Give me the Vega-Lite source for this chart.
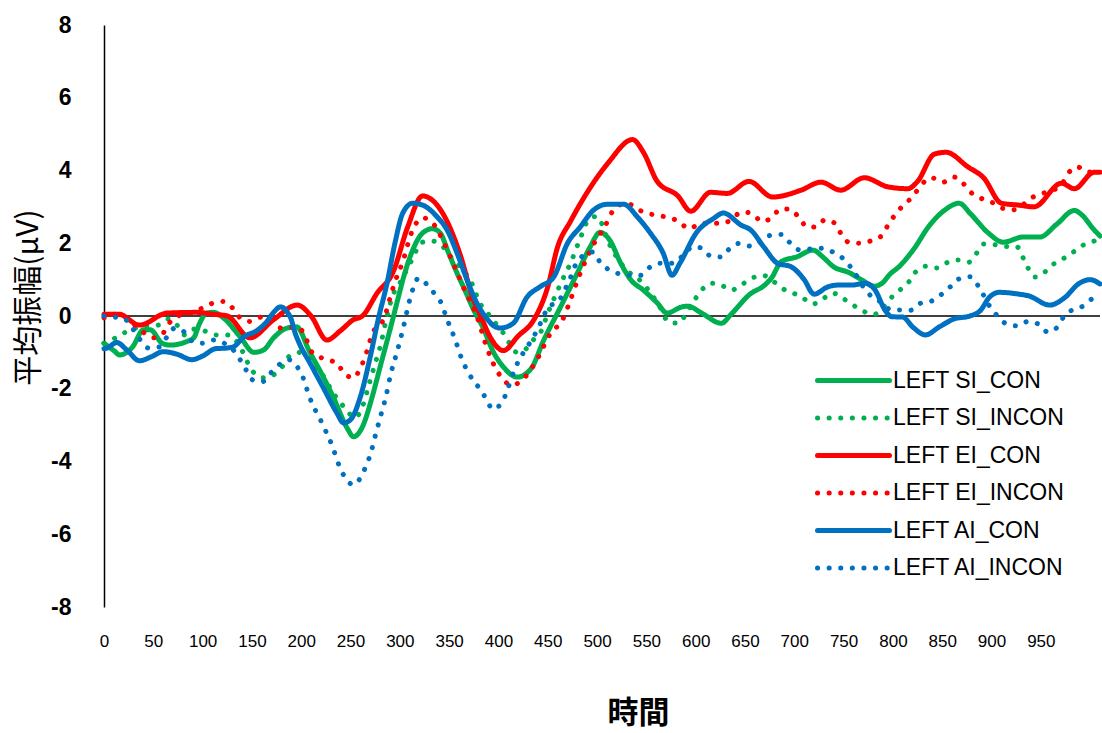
{
  "$schema": "https://vega.github.io/schema/vega-lite/v6.json",
  "width": 996,
  "height": 582,
  "autosize": {"type": "none"},
  "padding": {"left": 104, "top": 25, "right": 2, "bottom": 126},
  "background": "white",
  "config": {"view": {"stroke": null}, "font": "Liberation Sans"},
  "data": {"values": [
    {"s":"LEFT SI_CON","t":0,"v":-0.75},{"s":"LEFT SI_CON","t":10,"v":-0.95},{"s":"LEFT SI_CON","t":16,"v":-1.07},{"s":"LEFT SI_CON","t":29,"v":-0.85},{"s":"LEFT SI_CON","t":40,"v":-0.38},{"s":"LEFT SI_CON","t":47,"v":-0.38},{"s":"LEFT SI_CON","t":59,"v":-0.75},{"s":"LEFT SI_CON","t":67,"v":-0.8},{"s":"LEFT SI_CON","t":84,"v":-0.7},{"s":"LEFT SI_CON","t":91,"v":-0.6},{"s":"LEFT SI_CON","t":97,"v":-0.2},{"s":"LEFT SI_CON","t":104,"v":0.08},{"s":"LEFT SI_CON","t":111,"v":0.1},{"s":"LEFT SI_CON","t":121,"v":-0.05},{"s":"LEFT SI_CON","t":138,"v":-0.57},{"s":"LEFT SI_CON","t":152,"v":-1.0},{"s":"LEFT SI_CON","t":162,"v":-0.93},{"s":"LEFT SI_CON","t":172,"v":-0.6},{"s":"LEFT SI_CON","t":186,"v":-0.33},{"s":"LEFT SI_CON","t":196,"v":-0.3},{"s":"LEFT SI_CON","t":199,"v":-0.4},{"s":"LEFT SI_CON","t":207,"v":-0.9},{"s":"LEFT SI_CON","t":219,"v":-1.5},{"s":"LEFT SI_CON","t":232,"v":-2.2},{"s":"LEFT SI_CON","t":247,"v":-3.1},{"s":"LEFT SI_CON","t":253,"v":-3.32},{"s":"LEFT SI_CON","t":262,"v":-3.05},{"s":"LEFT SI_CON","t":272,"v":-2.22},{"s":"LEFT SI_CON","t":280,"v":-1.4},{"s":"LEFT SI_CON","t":290,"v":-0.38},{"s":"LEFT SI_CON","t":297,"v":0.36},{"s":"LEFT SI_CON","t":305,"v":1.18},{"s":"LEFT SI_CON","t":313,"v":1.81},{"s":"LEFT SI_CON","t":323,"v":2.28},{"s":"LEFT SI_CON","t":333,"v":2.4},{"s":"LEFT SI_CON","t":341,"v":2.28},{"s":"LEFT SI_CON","t":349,"v":1.76},{"s":"LEFT SI_CON","t":358,"v":1.18},{"s":"LEFT SI_CON","t":366,"v":0.71},{"s":"LEFT SI_CON","t":375,"v":0.16},{"s":"LEFT SI_CON","t":384,"v":-0.3},{"s":"LEFT SI_CON","t":395,"v":-1.0},{"s":"LEFT SI_CON","t":405,"v":-1.4},{"s":"LEFT SI_CON","t":419,"v":-1.68},{"s":"LEFT SI_CON","t":433,"v":-1.45},{"s":"LEFT SI_CON","t":446,"v":-0.66},{"s":"LEFT SI_CON","t":463,"v":0.25},{"s":"LEFT SI_CON","t":480,"v":1.18},{"s":"LEFT SI_CON","t":493,"v":1.9},{"s":"LEFT SI_CON","t":503,"v":2.3},{"s":"LEFT SI_CON","t":513,"v":2.08},{"s":"LEFT SI_CON","t":524,"v":1.45},{"s":"LEFT SI_CON","t":534,"v":1.0},{"s":"LEFT SI_CON","t":547,"v":0.71},{"s":"LEFT SI_CON","t":561,"v":0.36},{"s":"LEFT SI_CON","t":571,"v":0.08},{"s":"LEFT SI_CON","t":586,"v":0.25},{"s":"LEFT SI_CON","t":592,"v":0.27},{"s":"LEFT SI_CON","t":606,"v":0.08},{"s":"LEFT SI_CON","t":626,"v":-0.2},{"s":"LEFT SI_CON","t":636,"v":0.05},{"s":"LEFT SI_CON","t":655,"v":0.6},{"s":"LEFT SI_CON","t":670,"v":0.85},{"s":"LEFT SI_CON","t":677,"v":1.05},{"s":"LEFT SI_CON","t":687,"v":1.5},{"s":"LEFT SI_CON","t":702,"v":1.62},{"s":"LEFT SI_CON","t":719,"v":1.81},{"s":"LEFT SI_CON","t":729,"v":1.62},{"s":"LEFT SI_CON","t":740,"v":1.35},{"s":"LEFT SI_CON","t":755,"v":1.2},{"s":"LEFT SI_CON","t":768,"v":1.0},{"s":"LEFT SI_CON","t":781,"v":0.82},{"s":"LEFT SI_CON","t":789,"v":0.9},{"s":"LEFT SI_CON","t":797,"v":1.15},{"s":"LEFT SI_CON","t":806,"v":1.35},{"s":"LEFT SI_CON","t":822,"v":1.87},{"s":"LEFT SI_CON","t":836,"v":2.45},{"s":"LEFT SI_CON","t":852,"v":2.9},{"s":"LEFT SI_CON","t":867,"v":3.1},{"s":"LEFT SI_CON","t":879,"v":2.8},{"s":"LEFT SI_CON","t":896,"v":2.3},{"s":"LEFT SI_CON","t":912,"v":2.03},{"s":"LEFT SI_CON","t":932,"v":2.17},{"s":"LEFT SI_CON","t":949,"v":2.17},{"s":"LEFT SI_CON","t":966,"v":2.52},{"s":"LEFT SI_CON","t":984,"v":2.9},{"s":"LEFT SI_CON","t":992,"v":2.77},{"s":"LEFT SI_CON","t":1003,"v":2.4},{"s":"LEFT SI_CON","t":1010,"v":2.2},

    {"s":"LEFT SI_INCON","t":0,"v":-0.75},{"s":"LEFT SI_INCON","t":12,"v":-0.6},{"s":"LEFT SI_INCON","t":23,"v":-0.43},{"s":"LEFT SI_INCON","t":37,"v":-0.3},{"s":"LEFT SI_INCON","t":55,"v":-0.25},{"s":"LEFT SI_INCON","t":65,"v":-0.08},{"s":"LEFT SI_INCON","t":74,"v":-0.25},{"s":"LEFT SI_INCON","t":82,"v":-0.52},{"s":"LEFT SI_INCON","t":93,"v":-0.35},{"s":"LEFT SI_INCON","t":104,"v":-0.43},{"s":"LEFT SI_INCON","t":114,"v":-0.52},{"s":"LEFT SI_INCON","t":126,"v":-0.52},{"s":"LEFT SI_INCON","t":141,"v":-1.0},{"s":"LEFT SI_INCON","t":146,"v":-1.3},{"s":"LEFT SI_INCON","t":152,"v":-1.56},{"s":"LEFT SI_INCON","t":162,"v":-1.7},{"s":"LEFT SI_INCON","t":174,"v":-1.58},{"s":"LEFT SI_INCON","t":182,"v":-1.35},{"s":"LEFT SI_INCON","t":188,"v":-1.1},{"s":"LEFT SI_INCON","t":197,"v":-1.0},{"s":"LEFT SI_INCON","t":206,"v":-1.12},{"s":"LEFT SI_INCON","t":214,"v":-1.45},{"s":"LEFT SI_INCON","t":221,"v":-1.6},{"s":"LEFT SI_INCON","t":232,"v":-2.1},{"s":"LEFT SI_INCON","t":246,"v":-2.58},{"s":"LEFT SI_INCON","t":254,"v":-2.8},{"s":"LEFT SI_INCON","t":262,"v":-2.5},{"s":"LEFT SI_INCON","t":268,"v":-1.95},{"s":"LEFT SI_INCON","t":275,"v":-1.3},{"s":"LEFT SI_INCON","t":280,"v":-0.85},{"s":"LEFT SI_INCON","t":287,"v":0.0},{"s":"LEFT SI_INCON","t":293,"v":0.58},{"s":"LEFT SI_INCON","t":300,"v":0.9},{"s":"LEFT SI_INCON","t":311,"v":1.48},{"s":"LEFT SI_INCON","t":323,"v":2.03},{"s":"LEFT SI_INCON","t":333,"v":2.06},{"s":"LEFT SI_INCON","t":343,"v":1.92},{"s":"LEFT SI_INCON","t":354,"v":1.54},{"s":"LEFT SI_INCON","t":366,"v":1.2},{"s":"LEFT SI_INCON","t":373,"v":0.9},{"s":"LEFT SI_INCON","t":381,"v":0.36},{"s":"LEFT SI_INCON","t":389,"v":0.08},{"s":"LEFT SI_INCON","t":397,"v":-0.2},{"s":"LEFT SI_INCON","t":405,"v":-0.47},{"s":"LEFT SI_INCON","t":419,"v":-1.0},{"s":"LEFT SI_INCON","t":429,"v":-0.88},{"s":"LEFT SI_INCON","t":437,"v":-0.6},{"s":"LEFT SI_INCON","t":444,"v":-0.38},{"s":"LEFT SI_INCON","t":449,"v":0.0},{"s":"LEFT SI_INCON","t":457,"v":0.52},{"s":"LEFT SI_INCON","t":465,"v":1.0},{"s":"LEFT SI_INCON","t":473,"v":1.45},{"s":"LEFT SI_INCON","t":483,"v":2.14},{"s":"LEFT SI_INCON","t":491,"v":2.63},{"s":"LEFT SI_INCON","t":500,"v":2.74},{"s":"LEFT SI_INCON","t":512,"v":2.0},{"s":"LEFT SI_INCON","t":527,"v":1.35},{"s":"LEFT SI_INCON","t":537,"v":1.1},{"s":"LEFT SI_INCON","t":547,"v":0.9},{"s":"LEFT SI_INCON","t":554,"v":0.63},{"s":"LEFT SI_INCON","t":561,"v":0.38},{"s":"LEFT SI_INCON","t":573,"v":-0.17},{"s":"LEFT SI_INCON","t":583,"v":-0.2},{"s":"LEFT SI_INCON","t":590,"v":0.05},{"s":"LEFT SI_INCON","t":597,"v":0.36},{"s":"LEFT SI_INCON","t":606,"v":0.71},{"s":"LEFT SI_INCON","t":615,"v":0.9},{"s":"LEFT SI_INCON","t":626,"v":0.85},{"s":"LEFT SI_INCON","t":636,"v":0.71},{"s":"LEFT SI_INCON","t":646,"v":0.85},{"s":"LEFT SI_INCON","t":657,"v":1.04},{"s":"LEFT SI_INCON","t":668,"v":1.12},{"s":"LEFT SI_INCON","t":678,"v":0.97},{"s":"LEFT SI_INCON","t":687,"v":0.77},{"s":"LEFT SI_INCON","t":699,"v":0.63},{"s":"LEFT SI_INCON","t":709,"v":0.49},{"s":"LEFT SI_INCON","t":719,"v":0.33},{"s":"LEFT SI_INCON","t":729,"v":0.47},{"s":"LEFT SI_INCON","t":739,"v":0.63},{"s":"LEFT SI_INCON","t":749,"v":0.49},{"s":"LEFT SI_INCON","t":758,"v":0.33},{"s":"LEFT SI_INCON","t":768,"v":0.16},{"s":"LEFT SI_INCON","t":780,"v":0.04},{"s":"LEFT SI_INCON","t":789,"v":0.19},{"s":"LEFT SI_INCON","t":796,"v":0.44},{"s":"LEFT SI_INCON","t":806,"v":0.69},{"s":"LEFT SI_INCON","t":816,"v":0.93},{"s":"LEFT SI_INCON","t":823,"v":1.21},{"s":"LEFT SI_INCON","t":834,"v":1.37},{"s":"LEFT SI_INCON","t":845,"v":1.32},{"s":"LEFT SI_INCON","t":855,"v":1.47},{"s":"LEFT SI_INCON","t":866,"v":1.54},{"s":"LEFT SI_INCON","t":877,"v":1.48},{"s":"LEFT SI_INCON","t":885,"v":1.73},{"s":"LEFT SI_INCON","t":892,"v":1.98},{"s":"LEFT SI_INCON","t":903,"v":1.96},{"s":"LEFT SI_INCON","t":916,"v":1.91},{"s":"LEFT SI_INCON","t":926,"v":1.9},{"s":"LEFT SI_INCON","t":932,"v":1.6},{"s":"LEFT SI_INCON","t":937,"v":1.32},{"s":"LEFT SI_INCON","t":944,"v":1.07},{"s":"LEFT SI_INCON","t":954,"v":1.21},{"s":"LEFT SI_INCON","t":963,"v":1.43},{"s":"LEFT SI_INCON","t":973,"v":1.58},{"s":"LEFT SI_INCON","t":983,"v":1.76},{"s":"LEFT SI_INCON","t":993,"v":1.95},{"s":"LEFT SI_INCON","t":1004,"v":2.06},{"s":"LEFT SI_INCON","t":1010,"v":2.15},

    {"s":"LEFT EI_CON","t":0,"v":0.05},{"s":"LEFT EI_CON","t":15,"v":0.05},{"s":"LEFT EI_CON","t":36,"v":-0.25},{"s":"LEFT EI_CON","t":64,"v":0.08},{"s":"LEFT EI_CON","t":94,"v":0.1},{"s":"LEFT EI_CON","t":110,"v":0.05},{"s":"LEFT EI_CON","t":125,"v":0.0},{"s":"LEFT EI_CON","t":148,"v":-0.6},{"s":"LEFT EI_CON","t":172,"v":-0.1},{"s":"LEFT EI_CON","t":196,"v":0.3},{"s":"LEFT EI_CON","t":210,"v":0.0},{"s":"LEFT EI_CON","t":226,"v":-0.66},{"s":"LEFT EI_CON","t":240,"v":-0.4},{"s":"LEFT EI_CON","t":253,"v":-0.1},{"s":"LEFT EI_CON","t":262,"v":0.0},{"s":"LEFT EI_CON","t":277,"v":0.63},{"s":"LEFT EI_CON","t":293,"v":1.2},{"s":"LEFT EI_CON","t":308,"v":2.45},{"s":"LEFT EI_CON","t":323,"v":3.3},{"s":"LEFT EI_CON","t":344,"v":2.8},{"s":"LEFT EI_CON","t":361,"v":1.7},{"s":"LEFT EI_CON","t":374,"v":0.5},{"s":"LEFT EI_CON","t":382,"v":0.0},{"s":"LEFT EI_CON","t":392,"v":-0.6},{"s":"LEFT EI_CON","t":405,"v":-0.95},{"s":"LEFT EI_CON","t":420,"v":-0.55},{"s":"LEFT EI_CON","t":436,"v":-0.1},{"s":"LEFT EI_CON","t":450,"v":0.8},{"s":"LEFT EI_CON","t":460,"v":1.9},{"s":"LEFT EI_CON","t":473,"v":2.6},{"s":"LEFT EI_CON","t":490,"v":3.4},{"s":"LEFT EI_CON","t":511,"v":4.2},{"s":"LEFT EI_CON","t":536,"v":4.85},{"s":"LEFT EI_CON","t":547,"v":4.5},{"s":"LEFT EI_CON","t":561,"v":3.7},{"s":"LEFT EI_CON","t":582,"v":3.3},{"s":"LEFT EI_CON","t":595,"v":2.88},{"s":"LEFT EI_CON","t":615,"v":3.4},{"s":"LEFT EI_CON","t":632,"v":3.37},{"s":"LEFT EI_CON","t":654,"v":3.7},{"s":"LEFT EI_CON","t":678,"v":3.27},{"s":"LEFT EI_CON","t":707,"v":3.46},{"s":"LEFT EI_CON","t":727,"v":3.68},{"s":"LEFT EI_CON","t":747,"v":3.46},{"s":"LEFT EI_CON","t":771,"v":3.8},{"s":"LEFT EI_CON","t":795,"v":3.55},{"s":"LEFT EI_CON","t":815,"v":3.5},{"s":"LEFT EI_CON","t":825,"v":3.7},{"s":"LEFT EI_CON","t":842,"v":4.45},{"s":"LEFT EI_CON","t":854,"v":4.5},{"s":"LEFT EI_CON","t":876,"v":4.1},{"s":"LEFT EI_CON","t":892,"v":3.8},{"s":"LEFT EI_CON","t":910,"v":3.1},{"s":"LEFT EI_CON","t":927,"v":3.05},{"s":"LEFT EI_CON","t":943,"v":3.0},{"s":"LEFT EI_CON","t":971,"v":3.65},{"s":"LEFT EI_CON","t":984,"v":3.5},{"s":"LEFT EI_CON","t":1004,"v":3.95},{"s":"LEFT EI_CON","t":1010,"v":3.95},

    {"s":"LEFT EI_INCON","t":0,"v":-0.05},{"s":"LEFT EI_INCON","t":13,"v":0.05},{"s":"LEFT EI_INCON","t":22,"v":-0.05},{"s":"LEFT EI_INCON","t":40,"v":-0.45},{"s":"LEFT EI_INCON","t":50,"v":-0.6},{"s":"LEFT EI_INCON","t":60,"v":-0.47},{"s":"LEFT EI_INCON","t":66,"v":-0.2},{"s":"LEFT EI_INCON","t":80,"v":0.05},{"s":"LEFT EI_INCON","t":90,"v":0.1},{"s":"LEFT EI_INCON","t":110,"v":0.35},{"s":"LEFT EI_INCON","t":122,"v":0.4},{"s":"LEFT EI_INCON","t":131,"v":0.2},{"s":"LEFT EI_INCON","t":138,"v":-0.05},{"s":"LEFT EI_INCON","t":148,"v":-0.15},{"s":"LEFT EI_INCON","t":160,"v":-0.03},{"s":"LEFT EI_INCON","t":180,"v":-0.33},{"s":"LEFT EI_INCON","t":196,"v":-0.3},{"s":"LEFT EI_INCON","t":203,"v":-0.5},{"s":"LEFT EI_INCON","t":211,"v":-1.0},{"s":"LEFT EI_INCON","t":226,"v":-1.2},{"s":"LEFT EI_INCON","t":237,"v":-1.3},{"s":"LEFT EI_INCON","t":242,"v":-1.53},{"s":"LEFT EI_INCON","t":253,"v":-1.7},{"s":"LEFT EI_INCON","t":260,"v":-1.43},{"s":"LEFT EI_INCON","t":265,"v":-1.1},{"s":"LEFT EI_INCON","t":272,"v":-0.5},{"s":"LEFT EI_INCON","t":285,"v":0.0},{"s":"LEFT EI_INCON","t":288,"v":0.3},{"s":"LEFT EI_INCON","t":295,"v":0.93},{"s":"LEFT EI_INCON","t":303,"v":1.5},{"s":"LEFT EI_INCON","t":312,"v":2.3},{"s":"LEFT EI_INCON","t":323,"v":2.7},{"s":"LEFT EI_INCON","t":335,"v":2.5},{"s":"LEFT EI_INCON","t":345,"v":2.0},{"s":"LEFT EI_INCON","t":358,"v":1.2},{"s":"LEFT EI_INCON","t":366,"v":0.7},{"s":"LEFT EI_INCON","t":378,"v":0.0},{"s":"LEFT EI_INCON","t":389,"v":-0.93},{"s":"LEFT EI_INCON","t":400,"v":-1.57},{"s":"LEFT EI_INCON","t":414,"v":-1.9},{"s":"LEFT EI_INCON","t":424,"v":-1.76},{"s":"LEFT EI_INCON","t":437,"v":-1.3},{"s":"LEFT EI_INCON","t":453,"v":-0.47},{"s":"LEFT EI_INCON","t":465,"v":-0.1},{"s":"LEFT EI_INCON","t":473,"v":0.44},{"s":"LEFT EI_INCON","t":481,"v":1.04},{"s":"LEFT EI_INCON","t":490,"v":1.62},{"s":"LEFT EI_INCON","t":500,"v":2.14},{"s":"LEFT EI_INCON","t":508,"v":2.45},{"s":"LEFT EI_INCON","t":513,"v":2.77},{"s":"LEFT EI_INCON","t":529,"v":3.1},{"s":"LEFT EI_INCON","t":549,"v":2.83},{"s":"LEFT EI_INCON","t":561,"v":2.77},{"s":"LEFT EI_INCON","t":573,"v":2.7},{"s":"LEFT EI_INCON","t":583,"v":2.6},{"s":"LEFT EI_INCON","t":593,"v":2.4},{"s":"LEFT EI_INCON","t":606,"v":2.55},{"s":"LEFT EI_INCON","t":618,"v":2.55},{"s":"LEFT EI_INCON","t":628,"v":2.55},{"s":"LEFT EI_INCON","t":648,"v":2.86},{"s":"LEFT EI_INCON","t":658,"v":2.8},{"s":"LEFT EI_INCON","t":667,"v":2.6},{"s":"LEFT EI_INCON","t":677,"v":2.7},{"s":"LEFT EI_INCON","t":686,"v":2.94},{"s":"LEFT EI_INCON","t":695,"v":2.94},{"s":"LEFT EI_INCON","t":705,"v":2.7},{"s":"LEFT EI_INCON","t":713,"v":2.45},{"s":"LEFT EI_INCON","t":722,"v":2.45},{"s":"LEFT EI_INCON","t":731,"v":2.64},{"s":"LEFT EI_INCON","t":741,"v":2.55},{"s":"LEFT EI_INCON","t":747,"v":2.28},{"s":"LEFT EI_INCON","t":755,"v":2.03},{"s":"LEFT EI_INCON","t":765,"v":2.0},{"s":"LEFT EI_INCON","t":777,"v":2.06},{"s":"LEFT EI_INCON","t":787,"v":2.17},{"s":"LEFT EI_INCON","t":794,"v":2.45},{"s":"LEFT EI_INCON","t":800,"v":2.7},{"s":"LEFT EI_INCON","t":808,"v":2.97},{"s":"LEFT EI_INCON","t":817,"v":3.2},{"s":"LEFT EI_INCON","t":839,"v":3.8},{"s":"LEFT EI_INCON","t":851,"v":3.68},{"s":"LEFT EI_INCON","t":862,"v":3.82},{"s":"LEFT EI_INCON","t":871,"v":3.65},{"s":"LEFT EI_INCON","t":879,"v":3.4},{"s":"LEFT EI_INCON","t":889,"v":3.24},{"s":"LEFT EI_INCON","t":900,"v":3.13},{"s":"LEFT EI_INCON","t":910,"v":2.97},{"s":"LEFT EI_INCON","t":922,"v":2.92},{"s":"LEFT EI_INCON","t":942,"v":3.27},{"s":"LEFT EI_INCON","t":953,"v":3.38},{"s":"LEFT EI_INCON","t":963,"v":3.46},{"s":"LEFT EI_INCON","t":972,"v":3.65},{"s":"LEFT EI_INCON","t":978,"v":3.93},{"s":"LEFT EI_INCON","t":987,"v":4.1},{"s":"LEFT EI_INCON","t":997,"v":3.96},{"s":"LEFT EI_INCON","t":1010,"v":3.96},

    {"s":"LEFT AI_CON","t":0,"v":-0.9},{"s":"LEFT AI_CON","t":3,"v":-0.88},{"s":"LEFT AI_CON","t":13,"v":-0.73},{"s":"LEFT AI_CON","t":23,"v":-0.93},{"s":"LEFT AI_CON","t":36,"v":-1.23},{"s":"LEFT AI_CON","t":48,"v":-1.12},{"s":"LEFT AI_CON","t":60,"v":-0.98},{"s":"LEFT AI_CON","t":74,"v":-1.05},{"s":"LEFT AI_CON","t":89,"v":-1.2},{"s":"LEFT AI_CON","t":100,"v":-1.1},{"s":"LEFT AI_CON","t":113,"v":-0.9},{"s":"LEFT AI_CON","t":125,"v":-0.88},{"s":"LEFT AI_CON","t":131,"v":-0.85},{"s":"LEFT AI_CON","t":142,"v":-0.57},{"s":"LEFT AI_CON","t":155,"v":-0.4},{"s":"LEFT AI_CON","t":165,"v":-0.16},{"s":"LEFT AI_CON","t":172,"v":0.1},{"s":"LEFT AI_CON","t":179,"v":0.25},{"s":"LEFT AI_CON","t":186,"v":0.1},{"s":"LEFT AI_CON","t":190,"v":-0.1},{"s":"LEFT AI_CON","t":193,"v":-0.4},{"s":"LEFT AI_CON","t":198,"v":-0.75},{"s":"LEFT AI_CON","t":209,"v":-1.3},{"s":"LEFT AI_CON","t":222,"v":-1.95},{"s":"LEFT AI_CON","t":236,"v":-2.66},{"s":"LEFT AI_CON","t":243,"v":-2.94},{"s":"LEFT AI_CON","t":250,"v":-2.85},{"s":"LEFT AI_CON","t":260,"v":-2.22},{"s":"LEFT AI_CON","t":270,"v":-1.12},{"s":"LEFT AI_CON","t":278,"v":-0.1},{"s":"LEFT AI_CON","t":287,"v":0.9},{"s":"LEFT AI_CON","t":295,"v":2.0},{"s":"LEFT AI_CON","t":303,"v":2.83},{"s":"LEFT AI_CON","t":313,"v":3.1},{"s":"LEFT AI_CON","t":323,"v":3.05},{"s":"LEFT AI_CON","t":338,"v":2.72},{"s":"LEFT AI_CON","t":348,"v":2.36},{"s":"LEFT AI_CON","t":358,"v":1.73},{"s":"LEFT AI_CON","t":368,"v":1.0},{"s":"LEFT AI_CON","t":378,"v":0.36},{"s":"LEFT AI_CON","t":389,"v":-0.1},{"s":"LEFT AI_CON","t":397,"v":-0.3},{"s":"LEFT AI_CON","t":402,"v":-0.33},{"s":"LEFT AI_CON","t":415,"v":-0.2},{"s":"LEFT AI_CON","t":429,"v":0.52},{"s":"LEFT AI_CON","t":442,"v":0.8},{"s":"LEFT AI_CON","t":456,"v":1.07},{"s":"LEFT AI_CON","t":470,"v":2.0},{"s":"LEFT AI_CON","t":483,"v":2.45},{"s":"LEFT AI_CON","t":496,"v":2.9},{"s":"LEFT AI_CON","t":510,"v":3.07},{"s":"LEFT AI_CON","t":527,"v":3.07},{"s":"LEFT AI_CON","t":541,"v":2.72},{"s":"LEFT AI_CON","t":554,"v":2.28},{"s":"LEFT AI_CON","t":567,"v":1.73},{"s":"LEFT AI_CON","t":576,"v":1.12},{"s":"LEFT AI_CON","t":584,"v":1.45},{"s":"LEFT AI_CON","t":601,"v":2.3},{"s":"LEFT AI_CON","t":618,"v":2.68},{"s":"LEFT AI_CON","t":628,"v":2.83},{"s":"LEFT AI_CON","t":646,"v":2.5},{"s":"LEFT AI_CON","t":656,"v":2.36},{"s":"LEFT AI_CON","t":669,"v":1.9},{"s":"LEFT AI_CON","t":683,"v":1.45},{"s":"LEFT AI_CON","t":697,"v":1.35},{"s":"LEFT AI_CON","t":710,"v":1.0},{"s":"LEFT AI_CON","t":720,"v":0.6},{"s":"LEFT AI_CON","t":734,"v":0.8},{"s":"LEFT AI_CON","t":744,"v":0.85},{"s":"LEFT AI_CON","t":758,"v":0.85},{"s":"LEFT AI_CON","t":772,"v":0.9},{"s":"LEFT AI_CON","t":782,"v":0.71},{"s":"LEFT AI_CON","t":792,"v":0.16},{"s":"LEFT AI_CON","t":799,"v":-0.02},{"s":"LEFT AI_CON","t":810,"v":-0.03},{"s":"LEFT AI_CON","t":820,"v":-0.3},{"s":"LEFT AI_CON","t":833,"v":-0.52},{"s":"LEFT AI_CON","t":847,"v":-0.3},{"s":"LEFT AI_CON","t":862,"v":-0.08},{"s":"LEFT AI_CON","t":878,"v":0.0},{"s":"LEFT AI_CON","t":889,"v":0.16},{"s":"LEFT AI_CON","t":898,"v":0.52},{"s":"LEFT AI_CON","t":908,"v":0.65},{"s":"LEFT AI_CON","t":928,"v":0.6},{"s":"LEFT AI_CON","t":938,"v":0.55},{"s":"LEFT AI_CON","t":959,"v":0.3},{"s":"LEFT AI_CON","t":974,"v":0.5},{"s":"LEFT AI_CON","t":989,"v":0.9},{"s":"LEFT AI_CON","t":1000,"v":1.0},{"s":"LEFT AI_CON","t":1010,"v":0.88},

    {"s":"LEFT AI_INCON","t":0,"v":0.0},{"s":"LEFT AI_INCON","t":11,"v":-0.03},{"s":"LEFT AI_INCON","t":22,"v":-0.1},{"s":"LEFT AI_INCON","t":30,"v":-0.38},{"s":"LEFT AI_INCON","t":36,"v":-0.63},{"s":"LEFT AI_INCON","t":45,"v":-0.88},{"s":"LEFT AI_INCON","t":56,"v":-0.85},{"s":"LEFT AI_INCON","t":64,"v":-0.57},{"s":"LEFT AI_INCON","t":72,"v":-0.33},{"s":"LEFT AI_INCON","t":81,"v":-0.43},{"s":"LEFT AI_INCON","t":90,"v":-0.7},{"s":"LEFT AI_INCON","t":100,"v":-0.75},{"s":"LEFT AI_INCON","t":111,"v":-0.66},{"s":"LEFT AI_INCON","t":122,"v":-0.75},{"s":"LEFT AI_INCON","t":131,"v":-0.93},{"s":"LEFT AI_INCON","t":138,"v":-1.2},{"s":"LEFT AI_INCON","t":144,"v":-1.48},{"s":"LEFT AI_INCON","t":151,"v":-1.76},{"s":"LEFT AI_INCON","t":161,"v":-1.8},{"s":"LEFT AI_INCON","t":169,"v":-1.57},{"s":"LEFT AI_INCON","t":177,"v":-1.35},{"s":"LEFT AI_INCON","t":187,"v":-1.2},{"s":"LEFT AI_INCON","t":196,"v":-1.4},{"s":"LEFT AI_INCON","t":202,"v":-1.7},{"s":"LEFT AI_INCON","t":208,"v":-2.2},{"s":"LEFT AI_INCON","t":221,"v":-2.94},{"s":"LEFT AI_INCON","t":231,"v":-3.54},{"s":"LEFT AI_INCON","t":239,"v":-4.15},{"s":"LEFT AI_INCON","t":244,"v":-4.42},{"s":"LEFT AI_INCON","t":253,"v":-4.64},{"s":"LEFT AI_INCON","t":260,"v":-4.45},{"s":"LEFT AI_INCON","t":266,"v":-4.1},{"s":"LEFT AI_INCON","t":270,"v":-3.82},{"s":"LEFT AI_INCON","t":275,"v":-3.3},{"s":"LEFT AI_INCON","t":281,"v":-2.7},{"s":"LEFT AI_INCON","t":286,"v":-2.2},{"s":"LEFT AI_INCON","t":291,"v":-1.57},{"s":"LEFT AI_INCON","t":297,"v":-1.0},{"s":"LEFT AI_INCON","t":303,"v":-0.38},{"s":"LEFT AI_INCON","t":310,"v":0.44},{"s":"LEFT AI_INCON","t":319,"v":1.04},{"s":"LEFT AI_INCON","t":328,"v":0.85},{"s":"LEFT AI_INCON","t":336,"v":0.58},{"s":"LEFT AI_INCON","t":343,"v":0.3},{"s":"LEFT AI_INCON","t":347,"v":-0.03},{"s":"LEFT AI_INCON","t":351,"v":-0.3},{"s":"LEFT AI_INCON","t":355,"v":-0.57},{"s":"LEFT AI_INCON","t":359,"v":-0.88},{"s":"LEFT AI_INCON","t":363,"v":-1.2},{"s":"LEFT AI_INCON","t":368,"v":-1.48},{"s":"LEFT AI_INCON","t":374,"v":-1.76},{"s":"LEFT AI_INCON","t":382,"v":-2.03},{"s":"LEFT AI_INCON","t":388,"v":-2.3},{"s":"LEFT AI_INCON","t":394,"v":-2.56},{"s":"LEFT AI_INCON","t":404,"v":-2.36},{"s":"LEFT AI_INCON","t":409,"v":-2.03},{"s":"LEFT AI_INCON","t":417,"v":-1.43},{"s":"LEFT AI_INCON","t":425,"v":-1.02},{"s":"LEFT AI_INCON","t":435,"v":-0.6},{"s":"LEFT AI_INCON","t":446,"v":0.0},{"s":"LEFT AI_INCON","t":450,"v":0.25},{"s":"LEFT AI_INCON","t":460,"v":0.38},{"s":"LEFT AI_INCON","t":471,"v":0.93},{"s":"LEFT AI_INCON","t":481,"v":1.54},{"s":"LEFT AI_INCON","t":496,"v":1.76},{"s":"LEFT AI_INCON","t":503,"v":1.48},{"s":"LEFT AI_INCON","t":511,"v":1.29},{"s":"LEFT AI_INCON","t":524,"v":1.15},{"s":"LEFT AI_INCON","t":534,"v":1.12},{"s":"LEFT AI_INCON","t":544,"v":1.12},{"s":"LEFT AI_INCON","t":554,"v":1.35},{"s":"LEFT AI_INCON","t":564,"v":1.45},{"s":"LEFT AI_INCON","t":577,"v":1.45},{"s":"LEFT AI_INCON","t":587,"v":1.66},{"s":"LEFT AI_INCON","t":597,"v":1.9},{"s":"LEFT AI_INCON","t":606,"v":1.87},{"s":"LEFT AI_INCON","t":615,"v":1.65},{"s":"LEFT AI_INCON","t":626,"v":1.62},{"s":"LEFT AI_INCON","t":634,"v":1.84},{"s":"LEFT AI_INCON","t":645,"v":2.0},{"s":"LEFT AI_INCON","t":656,"v":1.92},{"s":"LEFT AI_INCON","t":666,"v":2.05},{"s":"LEFT AI_INCON","t":676,"v":2.22},{"s":"LEFT AI_INCON","t":687,"v":2.24},{"s":"LEFT AI_INCON","t":695,"v":2.03},{"s":"LEFT AI_INCON","t":705,"v":1.82},{"s":"LEFT AI_INCON","t":716,"v":1.84},{"s":"LEFT AI_INCON","t":728,"v":1.86},{"s":"LEFT AI_INCON","t":739,"v":1.76},{"s":"LEFT AI_INCON","t":749,"v":1.59},{"s":"LEFT AI_INCON","t":757,"v":1.35},{"s":"LEFT AI_INCON","t":764,"v":1.07},{"s":"LEFT AI_INCON","t":770,"v":0.8},{"s":"LEFT AI_INCON","t":780,"v":0.5},{"s":"LEFT AI_INCON","t":789,"v":0.37},{"s":"LEFT AI_INCON","t":798,"v":0.17},{"s":"LEFT AI_INCON","t":818,"v":0.16},{"s":"LEFT AI_INCON","t":828,"v":0.35},{"s":"LEFT AI_INCON","t":839,"v":0.41},{"s":"LEFT AI_INCON","t":849,"v":0.59},{"s":"LEFT AI_INCON","t":858,"v":0.8},{"s":"LEFT AI_INCON","t":867,"v":1.02},{"s":"LEFT AI_INCON","t":878,"v":1.08},{"s":"LEFT AI_INCON","t":886,"v":0.85},{"s":"LEFT AI_INCON","t":892,"v":0.57},{"s":"LEFT AI_INCON","t":898,"v":0.27},{"s":"LEFT AI_INCON","t":905,"v":0.03},{"s":"LEFT AI_INCON","t":914,"v":-0.2},{"s":"LEFT AI_INCON","t":926,"v":-0.27},{"s":"LEFT AI_INCON","t":937,"v":-0.15},{"s":"LEFT AI_INCON","t":948,"v":-0.23},{"s":"LEFT AI_INCON","t":957,"v":-0.44},{"s":"LEFT AI_INCON","t":967,"v":-0.3},{"s":"LEFT AI_INCON","t":973,"v":-0.03},{"s":"LEFT AI_INCON","t":982,"v":0.17},{"s":"LEFT AI_INCON","t":992,"v":0.26},{"s":"LEFT AI_INCON","t":1003,"v":0.49},{"s":"LEFT AI_INCON","t":1010,"v":0.55}
  ]},
  "layer": [
    {
      "data": {"values": [{}]},
      "mark": {"type": "rule", "color": "black", "strokeWidth": 1.5},
      "encoding": {"y": {"datum": 0, "type": "quantitative"}}
    },
    {
      "mark": {"type": "line", "interpolate": "monotone", "strokeWidth": 5, "strokeCap": "round", "strokeJoin": "round"},
      "encoding": {
        "x": {
          "field": "t", "type": "quantitative",
          "scale": {"domain": [0, 1010], "nice": false, "zero": false},
          "axis": {
            "values": [0,50,100,150,200,250,300,350,400,450,500,550,600,650,700,750,800,850,900,950],
            "ticks": false, "grid": false, "domain": false,
            "labelFont": "Liberation Sans", "labelFontSize": 17, "labelColor": "black",
            "labelPadding": 26, "labelFlush": false, "labelOverlap": false,
            "title": "時間", "titleFont": "Noto Sans CJK TC", "titleFontSize": 31, "titleFontWeight": "bold", "titleColor": "black",
            "titleX": 534, "titleY": 106, "titleAlign": "center", "titleBaseline": "middle"
          }
        },
        "y": {
          "field": "v", "type": "quantitative",
          "scale": {"domain": [-8, 8], "nice": false},
          "axis": {
            "values": [-8,-6,-4,-2,0,2,4,6,8],
            "labelExpr": "'' + datum.value",
            "ticks": false, "grid": false, "domainColor": "black", "domainWidth": 1.5,
            "labelFont": "Liberation Sans", "labelFontSize": 23, "labelFontWeight": "bold", "labelColor": "black",
            "labelPadding": 33,
            "title": "平均振幅(μV)", "titleFont": "Noto Sans CJK TC", "titleFontSize": 30, "titleFontWeight": "normal", "titleColor": "black",
            "titleAngle": -90, "titleX": -76, "titleY": 272, "titleAlign": "center", "titleBaseline": "middle"
          }
        },
        "color": {
          "field": "s", "type": "nominal",
          "scale": {
            "domain": ["LEFT SI_CON","LEFT SI_INCON","LEFT EI_CON","LEFT EI_INCON","LEFT AI_CON","LEFT AI_INCON"],
            "range": ["#00B050","#00B050","#FF0000","#FF0000","#0070C0","#0070C0"]
          },
          "legend": {
            "orient": "none", "legendX": 711, "legendY": 341, "title": null, "padding": 0,
            "symbolType": "M-3,0L3,0", "symbolSize": 576, "symbolStrokeWidth": 5, "symbolOffset": 24,
            "labelFont": "Liberation Sans", "labelFontSize": 23, "labelColor": "black", "labelOffset": 25, "labelLimit": 400,
            "rowPadding": 10.5,
            "encoding": {"symbols": {"strokeCap": {"value": "round"}}}
          }
        },
        "strokeDash": {
          "field": "s", "type": "nominal",
          "scale": {
            "domain": ["LEFT SI_CON","LEFT SI_INCON","LEFT EI_CON","LEFT EI_INCON","LEFT AI_CON","LEFT AI_INCON"],
            "range": [[1,0],[0.1,11.5],[1,0],[0.1,11.5],[1,0],[0.1,11.5]]
          },
          "legend": {
            "orient": "none", "legendX": 711, "legendY": 341, "title": null, "padding": 0,
            "symbolType": "M-3,0L3,0", "symbolSize": 576, "symbolStrokeWidth": 5, "symbolOffset": 24,
            "labelFont": "Liberation Sans", "labelFontSize": 23, "labelColor": "black", "labelOffset": 25, "labelLimit": 400,
            "rowPadding": 10.5,
            "encoding": {"symbols": {"strokeCap": {"value": "round"}}}
          }
        }
      }
    }
  ]
}
